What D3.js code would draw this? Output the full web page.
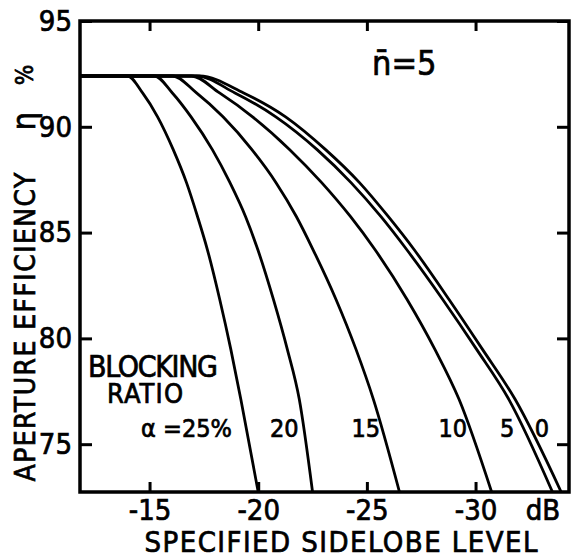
<!DOCTYPE html>
<html>
<head>
<title>Aperture Efficiency vs Sidelobe Level</title>
<script src="https://cdn.jsdelivr.net/npm/d3@7/dist/d3.min.js" charset="utf-8"></script>
<style>
	body { margin: 0; background: #fff; }
	svg text { font-family: "DejaVu Sans Condensed", "DejaVu Sans", sans-serif; fill: #000; stroke: #000; stroke-width: 0.7px; }
</style>
</head>
<body>
	<div id="chart"></div>

	<script>
		// tick values
		var xTicks = [-15, -20, -25, -30];
		var yTicks = [75, 80, 85, 90, 95];

		// blocking ratio (%) of each curve
		var ratios = [25, 20, 15, 10, 5, 0];

		// efficiency levels (%) at which the curves were read
		var effLevels = [92.4, 91.60, 90.47, 88.92, 87.36, 85.75, 84.20, 81.84, 79.48, 77.12, 72.74];

		// specified sidelobe level (dB) of each curve at those levels
		var sll25 = [-13.99, -14.68, -15.37, -16.09, -16.70, -17.21, -17.66, -18.23, -18.74, -19.20, -20.00];
		var sll20 = [-15.23, -16.05, -16.91, -17.89, -18.70, -19.42, -19.98, -20.70, -21.34, -21.89, -22.50];
		var sll15 = [-16.06, -17.16, -18.38, -19.71, -20.82, -21.76, -22.52, -23.58, -24.50, -25.30, -26.50];
		var sll10 = [-16.93, -18.22, -19.74, -21.45, -22.92, -24.25, -25.37, -26.85, -28.13, -29.24, -30.74];
		var sll5 = [-17.16, -18.93, -20.81, -22.71, -24.27, -25.65, -26.83, -28.49, -30.05, -31.53, -33.54];
		var sll0 = [-17.30, -19.33, -21.26, -23.10, -24.66, -25.99, -27.17, -28.78, -30.32, -31.82, -33.94];

		var sllSeries = [sll25, sll20, sll15, sll10, sll5, sll0];

		// flat part on the left, then the read points
		var plateauStart = -11.8;
		var curves = sllSeries.map(function(s) {
			return [[plateauStart, effLevels[0]]].concat(s.map(function(v, i) { return [v, effLevels[i]]; }));
		});

		// curve label positions [dB, %]
		var labelPos = [[-16.7, 75.35], [-21.2, 75.35], [-24.95, 75.35], [-28.95, 75.35], [-31.45, 75.35], [-33.05, 75.35]];

		var width = 573,
			height = 556,
			mLeft = 80, mRight = 569, mTop = 21, mBottom = 492;

		var x = d3.scaleLinear().domain([-11.8, -34.3]).range([mLeft, mRight]);
		var y = d3.scaleLinear().domain([72.74, 95]).range([mBottom, mTop]);

		var svg = d3.select('#chart').append('svg')
			.attr('width', width)
			.attr('height', height);

		svg.append('clipPath').attr('id', 'plot-clip')
			.append('rect')
			.attr('x', mLeft).attr('y', mTop)
			.attr('width', mRight - mLeft).attr('height', mBottom - mTop);

		// axes: inward ticks on all four sides
		function styleAxis(g) {
			g.select('.domain').remove();
			g.selectAll('.tick line').attr('stroke', '#000').attr('stroke-width', 3);
			g.selectAll('.tick text').style('font-size', '29px').attr('fill', '#000');
		}

		svg.append('g')
			.attr('transform', 'translate(0,' + mBottom + ')')
			.call(d3.axisBottom(x).tickValues(xTicks).tickSizeInner(-10).tickSizeOuter(0).tickPadding(7)
				.tickFormat(function(d) { return '-' + Math.abs(d); }))
			.call(styleAxis);

		svg.append('g')
			.attr('transform', 'translate(0,' + mTop + ')')
			.call(d3.axisTop(x).tickValues(xTicks).tickSizeInner(-10).tickSizeOuter(0).tickFormat(''))
			.call(styleAxis);

		svg.append('g')
			.attr('transform', 'translate(' + mLeft + ',0)')
			.call(d3.axisLeft(y).tickValues(yTicks).tickSizeInner(-12).tickSizeOuter(0).tickPadding(8))
			.call(styleAxis);

		svg.append('g')
			.attr('transform', 'translate(' + mRight + ',0)')
			.call(d3.axisRight(y).tickValues(yTicks).tickSizeInner(-12).tickSizeOuter(0).tickFormat(''))
			.call(styleAxis);

		// frame
		svg.append('rect')
			.attr('x', mLeft).attr('y', mTop)
			.attr('width', mRight - mLeft).attr('height', mBottom - mTop)
			.attr('fill', 'none')
			.attr('stroke', '#000')
			.attr('stroke-width', 3.5);

		// curves
		var line = d3.line()
			.x(function(d) { return x(d[0]); })
			.y(function(d) { return y(d[1]); })
			.curve(d3.curveMonotoneX);

		svg.append('g')
			.attr('clip-path', 'url(#plot-clip)')
			.selectAll('path.curve')
			.data(curves)
			.enter()
			.append('path')
			.attr('class', 'curve')
			.attr('d', line)
			.attr('fill', 'none')
			.attr('stroke', '#000')
			.attr('stroke-width', 2.8);

		// curve labels
		svg.selectAll('text.ratio')
			.data(ratios)
			.enter()
			.append('text')
			.attr('class', 'ratio')
			.attr('x', function(d, i) { return x(labelPos[i][0]); })
			.attr('y', function(d, i) { return y(labelPos[i][1]); })
			.attr('text-anchor', 'middle')
			.style('font-size', '25px')
			.text(function(d, i) { return i === 0 ? '\u03b1 =' + d + '%' : d; });

		svg.append('text')
			.attr('x', 153).attr('y', 377)
			.attr('text-anchor', 'middle')
			.attr('textLength', 130)
			.style('font-size', '30px')
			.text('BLOCKING');

		svg.append('text')
			.attr('x', 145).attr('y', 403)
			.attr('text-anchor', 'middle')
			.attr('textLength', 76)
			.style('font-size', '27px')
			.text('RATIO');

		svg.append('text')
			.attr('x', 372).attr('y', 75)
			.style('font-size', '34px')
			.text('n\u0304=5');

		// axis titles
		svg.append('text')
			.attr('x', 341).attr('y', 552)
			.attr('text-anchor', 'middle')
			.attr('textLength', 393)
			.style('font-size', '29px')
			.text('SPECIFIED SIDELOBE LEVEL');

		svg.append('text')
			.attr('transform', 'translate(35,' + 327 + ') rotate(-90)')
			.attr('text-anchor', 'middle')
			.attr('textLength', 309)
			.style('font-size', '28px')
			.text('APERTURE EFFICIENCY');

		svg.append('text')
			.attr('transform', 'translate(35,121) rotate(-90)')
			.attr('text-anchor', 'middle')
			.style('font-size', '32px')
			.text('\u03b7');

		svg.append('text')
			.attr('transform', 'translate(33,75) rotate(-90)')
			.attr('text-anchor', 'middle')
			.style('font-size', '24px')
			.text('%');

		svg.append('text')
			.attr('x', 543).attr('y', 520)
			.attr('text-anchor', 'middle')
			.style('font-size', '29px')
			.text('dB');
	</script>
</body>
</html>
